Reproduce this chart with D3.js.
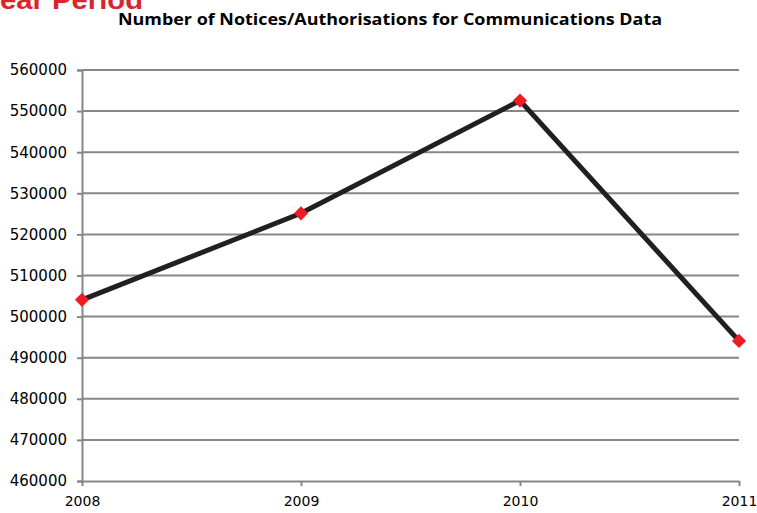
<!DOCTYPE html>
<html><head><meta charset="utf-8">
<script src="https://cdn.jsdelivr.net/npm/d3@7"></script>
<style>body{margin:0;background:#fff}svg{display:block}</style>
</head><body>
<svg id="c" width="757" height="513"></svg>
<script>
const years = ["2008", "2009", "2010", "2011"];
const notices = [504073, 525130, 552550, 494078];
const yTicks = [460000, 470000, 480000, 490000, 500000, 510000, 520000, 530000, 540000, 550000, 560000];
const chartTitle = "Number of Notices/Authorisations for Communications Data";
const headerFragment = "ear Period";

const svg = d3.select("#c");
const x = d3.scalePoint().domain(years).range([82, 739]);
const y = d3.scaleLinear().domain([460000, 560000]).range([481, 70]);
const grey = "#878787";

svg.append("text").attr("x", 0).attr("y", 9)
  .attr("font-family", "Liberation Sans, Arial, sans-serif").attr("font-weight", "bold")
  .attr("font-size", 26).attr("fill", "#d9262d")
  .attr("textLength", 143).attr("lengthAdjust", "spacingAndGlyphs").text(headerFragment);

svg.append("text").attr("x", 390).attr("y", 25).attr("text-anchor", "middle")
  .attr("font-family", "Open Sans, sans-serif").attr("font-weight", "bold")
  .attr("font-size", 15.5).attr("fill", "#000")
  .attr("textLength", 544).attr("lengthAdjust", "spacingAndGlyphs").text(chartTitle);

// gridlines
svg.append("g").selectAll("line").data(yTicks.slice(1)).join("line")
  .attr("x1", 82).attr("x2", 739).attr("y1", d => y(d)).attr("y2", d => y(d))
  .attr("stroke", grey).attr("stroke-width", 2);

// y axis
const ya = svg.append("g").attr("transform", "translate(82,0)")
  .call(d3.axisLeft(y).tickValues(yTicks).tickFormat(d3.format("d")).tickSize(5).tickPadding(10));
ya.select(".domain").attr("stroke", grey).attr("stroke-width", 2);
ya.selectAll(".tick line").attr("stroke", grey).attr("stroke-width", 2);
ya.selectAll("text").attr("font-family", "DejaVu Sans, sans-serif").attr("font-size", 15).attr("fill", "#000");

// x axis
const xa = svg.append("g").attr("transform", "translate(0,481)")
  .call(d3.axisBottom(x).tickSize(5).tickPadding(10).tickSizeOuter(0));
xa.select(".domain").attr("stroke", grey).attr("stroke-width", 2);
xa.selectAll(".tick line").attr("stroke", grey).attr("stroke-width", 2);
xa.selectAll("text").attr("font-family", "DejaVu Sans, sans-serif").attr("font-size", 14).attr("fill", "#000");

const pts = years.map((yr, i) => [x(yr), y(notices[i])]);
svg.append("path").attr("d", d3.line()(pts)).attr("fill", "none")
  .attr("stroke", "#231f20").attr("stroke-width", 5).attr("stroke-linejoin", "miter");

svg.append("g").selectAll("path").data(pts).join("path")
  .attr("d", d3.symbol(d3.symbolSquare, 100)())
  .attr("transform", d => `translate(${d[0]},${d[1]}) rotate(45)`)
  .attr("fill", "#ed1c24");
</script>
</body></html>
